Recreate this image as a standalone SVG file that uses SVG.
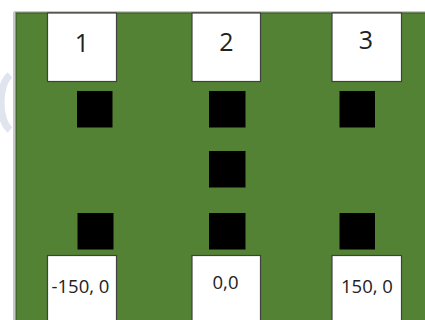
<svg xmlns="http://www.w3.org/2000/svg" width="425" height="320" viewBox="0 0 425 320">
  <style>
    .box { fill: #ffffff; stroke: #404040; stroke-width: 1.2; }
    .blk { fill: #000000; }
    .big { font-family: "Open Sans", "Liberation Sans", sans-serif; font-size: 25px; fill: #222222; text-anchor: middle; }
    .small { font-family: "Open Sans", "Liberation Sans", sans-serif; font-size: 18.5px; fill: #222222; text-anchor: middle; }
  </style>
  <rect x="0" y="0" width="425" height="320" fill="#ffffff"/>
  <path d="M10,75 C-2,85 -2,120 10,130" fill="none" stroke="#dfe4ee" stroke-width="7"/>
  <path d="M14,12 H425 M14,12 V320" fill="none" stroke="#c8c8c8" stroke-width="2"/>
  <g id="field">
    <rect x="16" y="13" width="420" height="320" fill="#548235" stroke="#3a5a24" stroke-width="1.2"/>
  </g>
  <g id="connectors"></g>
  <g id="node-1">
    <rect class="box" x="47.5" y="13" width="69" height="68.5"/>
    <text class="big" x="82" y="51.5">1</text>
  </g>
  <g id="node-2">
    <rect class="box" x="192" y="13" width="68.5" height="68.5"/>
    <text class="big" x="226.5" y="50.5">2</text>
  </g>
  <g id="node-3">
    <rect class="box" x="332" y="13" width="69.5" height="68.5"/>
    <text class="big" x="366" y="48.5">3</text>
  </g>
  <g id="sq-1a"><rect class="blk" x="77" y="91" width="35.5" height="36.5"/></g>
  <g id="sq-2a"><rect class="blk" x="209" y="91" width="36.5" height="36.5"/></g>
  <g id="sq-3a"><rect class="blk" x="339.5" y="91" width="35.5" height="36.5"/></g>
  <g id="sq-2b"><rect class="blk" x="209" y="151" width="36.5" height="36.5"/></g>
  <g id="sq-1c"><rect class="blk" x="77.5" y="213" width="36" height="36.5"/></g>
  <g id="sq-2c"><rect class="blk" x="209" y="213" width="36.5" height="36.5"/></g>
  <g id="sq-3c"><rect class="blk" x="339.5" y="213" width="35.5" height="36.5"/></g>
  <g id="node-m150">
    <rect class="box" x="47.5" y="255.5" width="69" height="70"/>
    <text class="small" x="80.5" y="292.5">-150, 0</text>
  </g>
  <g id="node-0">
    <rect class="box" x="192" y="255.5" width="68.5" height="70"/>
    <text class="small" x="225.5" y="288.5">0,0</text>
  </g>
  <g id="node-150">
    <rect class="box" x="332" y="255.5" width="69.5" height="70"/>
    <text class="small" x="367" y="292.5">150, 0</text>
  </g>
</svg>
